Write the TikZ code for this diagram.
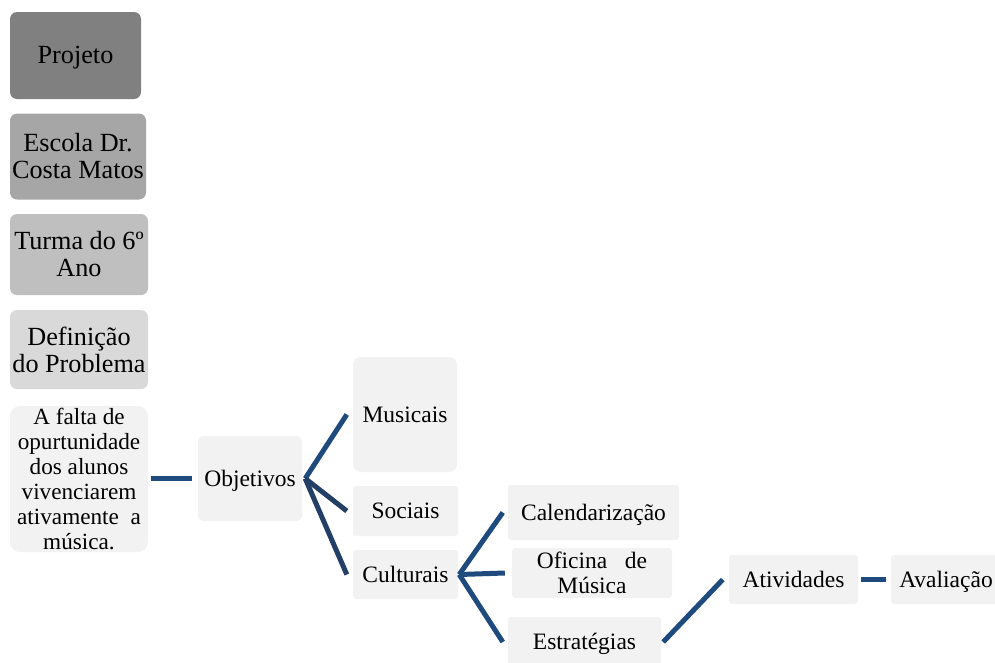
\documentclass[tikz,border=0pt]{standalone}
\usepackage{fontspec}
\setmainfont{Liberation Serif}
\definecolor{lineblue}{HTML}{1F4A7E}
\definecolor{linedark}{HTML}{243F66}
\definecolor{boxA}{HTML}{808080}
\definecolor{boxB}{HTML}{A6A6A6}
\definecolor{boxC}{HTML}{BFBFBF}
\definecolor{boxD}{HTML}{D9D9D9}
\definecolor{boxE}{HTML}{F2F2F2}
\tikzset{
  box/.style={draw=none, fill=boxE, inner sep=0pt, align=center, rounded corners=3pt,
    font=\fontsize{23.5}{24.5}\selectfont},
  oneline/.style={text height=20.2pt, text depth=5.2pt},
  leftbox/.style={box, rounded corners=7pt, font=\fontsize{26.2}{27}\selectfont},
  conn/.style={draw=lineblue, line width=5pt},
}
\begin{document}
\begin{tikzpicture}[x=1pt,y=-1pt]
\useasboundingbox (0,0) rectangle (995,662);
% left column
\node[leftbox, oneline, fill=boxA, minimum width=131, minimum height=87] (proj) at (75.5,55.5) {Projeto};
\node[leftbox, fill=boxB, minimum width=136, minimum height=86] (esc) at (78,156.5) {Escola Dr.\\Costa Matos};
\node[leftbox, fill=boxC, minimum width=138, minimum height=81] (turma) at (79,254.5) {Turma do 6º\\Ano};
\node[leftbox, fill=boxD, minimum width=138, minimum height=79] (def) at (79,349.5) {Definição\\do Problema};
\node[box, rounded corners=10pt, minimum width=138, minimum height=146,
  font=\fontsize{23.2}{25}\selectfont] (falta) at (79,479) {A falta de\\opurtunidade\\dos alunos\\vivenciarem\\ativamente~ a\\música.};
% tree
\node[box, oneline, rounded corners=5pt, minimum width=104, minimum height=85] (obj) at (250,478.5) {Objetivos};
\node[box, oneline, rounded corners=8pt, minimum width=104, minimum height=115] (mus) at (405,414.5) {Musicais};
\node[box, oneline, minimum width=105, minimum height=50] (soc) at (405.5,511) {Sociais};
\node[box, oneline, minimum width=105, minimum height=49] (cult) at (405.5,574.5) {Culturais};
\node[box, oneline, minimum width=171, minimum height=55] (cal) at (593.5,512.5) {Calendarização};
\node[box, minimum width=160, minimum height=50] (ofi) at (592,573) {Oficina~~ de\\Música};
\node[box, oneline, minimum width=153, minimum height=50] (est) at (584.5,642) {Estratégias};
\node[box, oneline, minimum width=129, minimum height=49] (ativ) at (793.5,579.5) {Atividades};
\node[box, oneline, minimum width=110, minimum height=49] (aval) at (946,579.5) {Avaliação};
% connectors
\draw[conn] ([xshift=3pt]falta.east |- obj.east) -- ([xshift=-6pt]obj.west);
\draw[conn] ([xshift=3pt]obj.east) -- ([xshift=-6pt]mus.west);
\draw[conn, draw=linedark] ([xshift=3pt]obj.east) -- ([xshift=-6pt]soc.west);
\draw[conn, draw=linedark] ([xshift=3pt]obj.east) -- ([xshift=-6pt]cult.west);
\draw[conn] ([xshift=1pt]cult.east) -- ([xshift=-5pt]cal.west);
\draw[conn] ([xshift=1pt]cult.east) -- ([xshift=-7pt]ofi.west);
\draw[conn] ([xshift=1pt]cult.east) -- ([xshift=-5pt]est.west);
\draw[conn] ([xshift=2pt]est.east) -- ([xshift=-6pt]ativ.west);
\draw[conn] ([xshift=3pt]ativ.east) -- ([xshift=-5pt]aval.west);
\end{tikzpicture}
\end{document}
